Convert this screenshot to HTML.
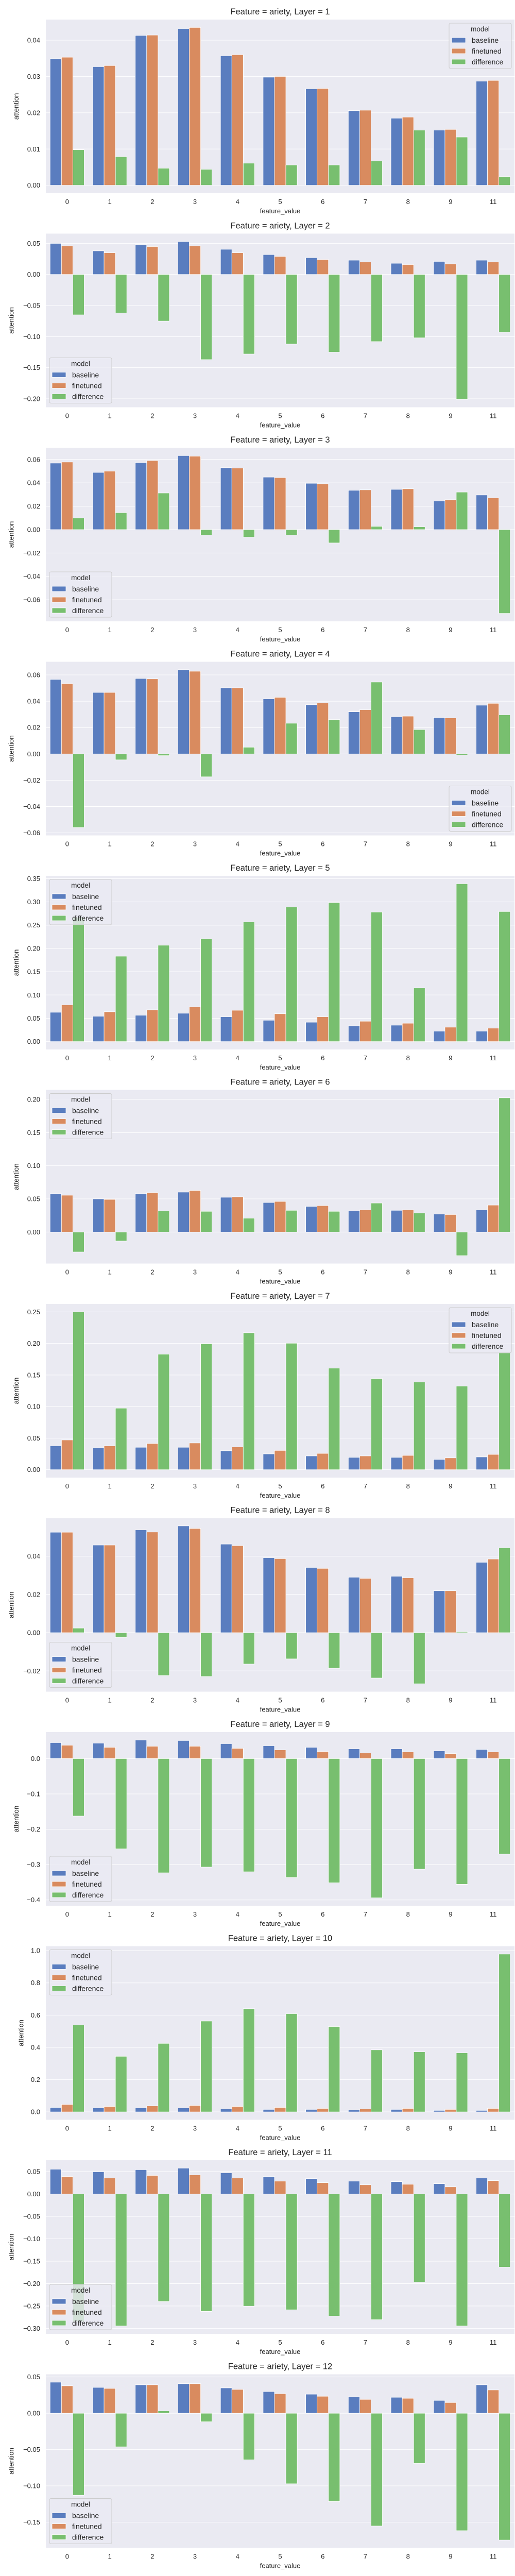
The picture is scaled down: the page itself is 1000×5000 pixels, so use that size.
<!DOCTYPE html>
<html><head><meta charset="utf-8">
<style>
html,body{margin:0;padding:0;background:#fff;}
svg{display:block;font-family:"Liberation Sans","DejaVu Sans",sans-serif;}
</style></head>
<body>
<svg id="chart" width="1000" height="5000" viewBox="0 0 1000 5000" xmlns="http://www.w3.org/2000/svg"></svg>
<script>
const categories = ["0","1","2","3","4","5","6","7","8","9","11"];
const seriesNames = ["baseline","finetuned","difference"];
const layers = [1,2,3,4,5,6,7,8,9,10,11,12];

const baseline1 = [.0349,.0327,.0413,.0432,.0357,.0298,.0266,.0206,.0185,.0152,.0287];
const finetuned1 = [.0353,.0330,.0414,.0435,.0360,.0300,.0267,.0207,.0188,.0154,.0289];
const difference1 = [.0098,.0079,.0047,.0044,.0061,.0056,.0056,.0067,.0152,.0133,.0024];
const ticks1 = [0,.01,.02,.03,.04];

const baseline2 = [.050,.038,.048,.053,.0405,.032,.027,.023,.018,.021,.023];
const finetuned2 = [.046,.035,.045,.046,.035,.029,.024,.020,.016,.017,.020];
const difference2 = [-.065,-.062,-.075,-.137,-.128,-.112,-.125,-.108,-.102,-.201,-.093];
const ticks2 = [-.2,-.15,-.1,-.05,0,.05];

const baseline3 = [.0569,.0489,.0573,.0633,.0529,.0449,.0396,.0336,.0344,.0245,.0296];
const finetuned3 = [.0578,.0500,.0591,.0628,.0526,.0445,.0392,.0340,.0349,.0256,.0272];
const difference3 = [.0100,.0145,.0313,-.0047,-.0065,-.0047,-.0114,.0028,.0024,.0321,-.0717];
const ticks3 = [-.06,-.04,-.02,0,.02,.04,.06];

const baseline4 = [.0566,.0467,.0573,.0640,.0502,.0418,.0374,.0320,.0283,.0277,.0370];
const finetuned4 = [.0534,.0467,.0570,.0628,.0502,.0430,.0388,.0336,.0287,.0273,.0384];
const difference4 = [-.0559,-.0045,-.0013,-.0174,.0051,.0233,.0261,.0546,.0185,-.0009,.0297];
const ticks4 = [-.06,-.04,-.02,0,.02,.04,.06];

const baseline5 = [.0629,.0544,.0565,.0608,.0533,.0458,.0416,.0338,.0352,.0224,.0224];
const finetuned5 = [.0789,.0640,.0682,.0746,.0672,.0597,.0533,.0437,.0394,.0309,.0288];
const difference5 = [.2665,.1834,.2069,.2207,.2569,.2889,.2985,.2782,.1151,.3390,.2793];
const ticks5 = [0,.05,.1,.15,.2,.25,.3,.35];

const baseline6 = [.0579,.0500,.0579,.0602,.0524,.0445,.0387,.0319,.0327,.0272,.0335];
const finetuned6 = [.0555,.0492,.0594,.0626,.0531,.0461,.0398,.0335,.0335,.0264,.0406];
const difference6 = [-.0301,-.0136,.0319,.0312,.0209,.0327,.0312,.0437,.0288,-.0356,.2024];
const ticks6 = [0,.05,.1,.15,.2];

const baseline7 = [.0378,.0347,.0355,.0355,.0300,.0250,.0218,.0195,.0195,.0163,.0202];
const finetuned7 = [.0471,.0376,.0415,.0423,.0360,.0305,.0258,.0218,.0226,.0187,.0242];
const difference7 = [.2500,.0975,.1830,.1995,.2169,.2003,.1609,.1443,.1388,.1325,.1861];
const ticks7 = [0,.05,.1,.15,.2,.25];

const baseline8 = [.0525,.0458,.0537,.0558,.0463,.0392,.0341,.0290,.0295,.0219,.0368];
const finetuned8 = [.0525,.0458,.0526,.0545,.0455,.0387,.0336,.0284,.0287,.0219,.0385];
const difference8 = [.0024,-.0025,-.0224,-.0229,-.0164,-.0137,-.0186,-.0237,-.0267,.0005,.0444];
const ticks8 = [-.02,0,.02,.04];

const baseline9 = [.0452,.0437,.0526,.0511,.0423,.0364,.0319,.0275,.0275,.0216,.0260];
const finetuned9 = [.0378,.0319,.0349,.0349,.0290,.0246,.0201,.0157,.0187,.0143,.0187];
const difference9 = [-.1627,-.2555,-.3233,-.3071,-.3204,-.3366,-.3514,-.3941,-.3130,-.3558,-.2703];
const ticks9 = [-.4,-.3,-.2,-.1,0];

const baseline10 = [.0277,.0246,.0246,.0246,.0185,.0154,.0154,.0123,.0154,.0092,.0092];
const finetuned10 = [.0462,.0338,.0369,.0400,.0338,.0277,.0215,.0185,.0215,.0154,.0215];
const difference10 = [.5385,.3446,.4246,.5631,.6400,.6092,.5292,.3846,.3723,.3662,.9785];
const ticks10 = [0,.2,.4,.6,.8,1.0];

const baseline11 = [.0554,.0496,.0543,.0578,.0473,.0391,.0345,.0287,.0275,.0229,.0357];
const finetuned11 = [.0391,.0357,.0415,.0426,.0357,.0287,.0252,.0205,.0217,.0159,.0298];
const difference11 = [-.2850,-.2946,-.2399,-.2620,-.2504,-.2585,-.2725,-.2806,-.1969,-.2946,-.1632];
const ticks11 = [-.3,-.25,-.2,-.15,-.1,-.05,0,.05];

const baseline12 = [.0428,.0356,.0392,.0407,.0349,.0299,.0263,.0227,.0220,.0177,.0392];
const finetuned12 = [.0378,.0342,.0392,.0407,.0328,.0270,.0234,.0191,.0206,.0148,.0321];
const difference12 = [-.1129,-.0462,.0033,-.0117,-.0641,-.0971,-.1215,-.1553,-.0691,-.1617,-.1746];
const ticks12 = [-.15,-.1,-.05,0,.05];

const tickDecimals = [2,2,2,2,2,2,2,2,1,1,2,2];
const legendLoc = ["ur","ll","ll","lr","ul","ul","ur","ll","ll","ul","ll","ll"];

const allBase = [baseline1,baseline2,baseline3,baseline4,baseline5,baseline6,baseline7,baseline8,baseline9,baseline10,baseline11,baseline12];
const allFine = [finetuned1,finetuned2,finetuned3,finetuned4,finetuned5,finetuned6,finetuned7,finetuned8,finetuned9,finetuned10,finetuned11,finetuned12];
const allDiff = [difference1,difference2,difference3,difference4,difference5,difference6,difference7,difference8,difference9,difference10,difference11,difference12];
const allTicks = [ticks1,ticks2,ticks3,ticks4,ticks5,ticks6,ticks7,ticks8,ticks9,ticks10,ticks11,ticks12];

const colors = ["#5a7dbf","#d98b5f","#78bf6f"];
const NS = "http://www.w3.org/2000/svg";
const svg = document.getElementById("chart");
function mk(tag, attrs, parent){
  const e = document.createElementNS(NS, tag);
  for (const k in attrs) e.setAttribute(k, attrs[k]);
  (parent||svg).appendChild(e);
  return e;
}
const PL = 89, PR = 999, PH = 337, STEP = 415.5, TOP0 = 38;
const band = (PR - PL) / categories.length;

function fmt(v, d){
  const s = Math.abs(v).toFixed(d);
  return (v < -1e-9 ? "\u2212" : "") + s;
}

layers.forEach((layer, i) => {
  const oy = i * STEP;
  const top = TOP0 + oy, bot = top + PH;
  const series = [allBase[i], allFine[i], allDiff[i]];
  const all = series.flat().concat([0]);
  const dmin = Math.min(...all), dmax = Math.max(...all);
  const r = dmax - dmin;
  const y0 = dmin - 0.05 * r, y1 = dmax + 0.05 * r;
  const yS = v => bot - (v - y0) / (y1 - y0) * PH;
  const xC = j => PL + band * (j + 0.5);

  const g = mk("g", {});
  
  

  const bg = mk("rect", {x: PL, y: top, width: PR - PL, height: PH, fill: "#eaeaf2"}, g);
  
  

  const title = mk("text", {x: (PL + PR) / 2, y: top - 10, "text-anchor": "middle", "font-size": "16.5", fill: "#262626"}, g);
  title.textContent = "Feature = ariety, Layer = " + layer;
  
  

  const ticks = allTicks[i];
  let maxLen = 0;
  ticks.forEach(t => {
    const y = yS(t);
    const gl = mk("line", {x1: PL, x2: PR, y1: y, y2: y, stroke: "#ffffff", "stroke-width": 1}, g);
    
    
    const lbl = fmt(t, tickDecimals[i]);
    maxLen = Math.max(maxLen, lbl.length);
    const tl = mk("text", {x: PL - 11, y: y + 4.5, "text-anchor": "end", "font-size": "13", fill: "#262626"}, g);
    tl.textContent = lbl;
    
    
  });

  categories.forEach((c, j) => {
    series.forEach((arr, s) => {
      const v = arr[j];
      const bw = band * 0.8 / 3;
      const x = xC(j) - band * 0.4 + s * bw;
      const ya = yS(Math.max(v, 0)), yb = yS(Math.min(v, 0));
      const b = mk("rect", {x: x, y: ya, width: bw, height: Math.max(yb - ya, 0.01), fill: colors[s], stroke: "#ffffff", "stroke-width": 0.8}, g);
      
      
    });
    const xl = mk("text", {x: xC(j), y: bot + 21, "text-anchor": "middle", "font-size": "13", fill: "#262626"}, g);
    xl.textContent = c;
    
    
  });

  const xt = mk("text", {x: (PL + PR) / 2, y: bot + 39, "text-anchor": "middle", "font-size": "13", fill: "#262626"}, g);
  xt.textContent = "feature_value";
  
  

  const ax = 31 - (maxLen - 4) * 9.5;
  const yt = mk("text", {x: 0, y: 0, "text-anchor": "middle", "font-size": "13.5", fill: "#262626", transform: "translate(" + (ax + 5) + "," + (top + PH / 2) + ") rotate(-90)"}, g);
  yt.textContent = "attention";
  
  

  // legend
  const loc = legendLoc[i];
  const LW = 121, LH = 88;
  const lx = loc[1] === "l" ? 96 : 872;
  const ly = loc[0] === "u" ? top + 7 : bot - 8 - LH;
  const lg = mk("g", {}, g);
  
  
  mk("rect", {x: lx, y: ly, width: LW, height: LH, rx: 3, fill: "#eaeaf2", "fill-opacity": 0.8, stroke: "#cccccc", "stroke-width": 1}, lg);
  const lt = mk("text", {x: lx + LW / 2, y: ly + 16, "text-anchor": "middle", "font-size": "13.5", fill: "#262626"}, lg);
  lt.textContent = "model";
  
  
  seriesNames.forEach((n, s) => {
    const ey = ly + 33 + s * 21;
    const sw = mk("rect", {x: lx + 5, y: ey - 5, width: 27, height: 10, fill: colors[s], stroke: "#ffffff", "stroke-width": 0.8}, lg);
    
    
    const et = mk("text", {x: lx + 44, y: ey + 5, "font-size": "14", fill: "#262626"}, lg);
    et.textContent = n;
    
    
  });
});
</script>
</body></html>
